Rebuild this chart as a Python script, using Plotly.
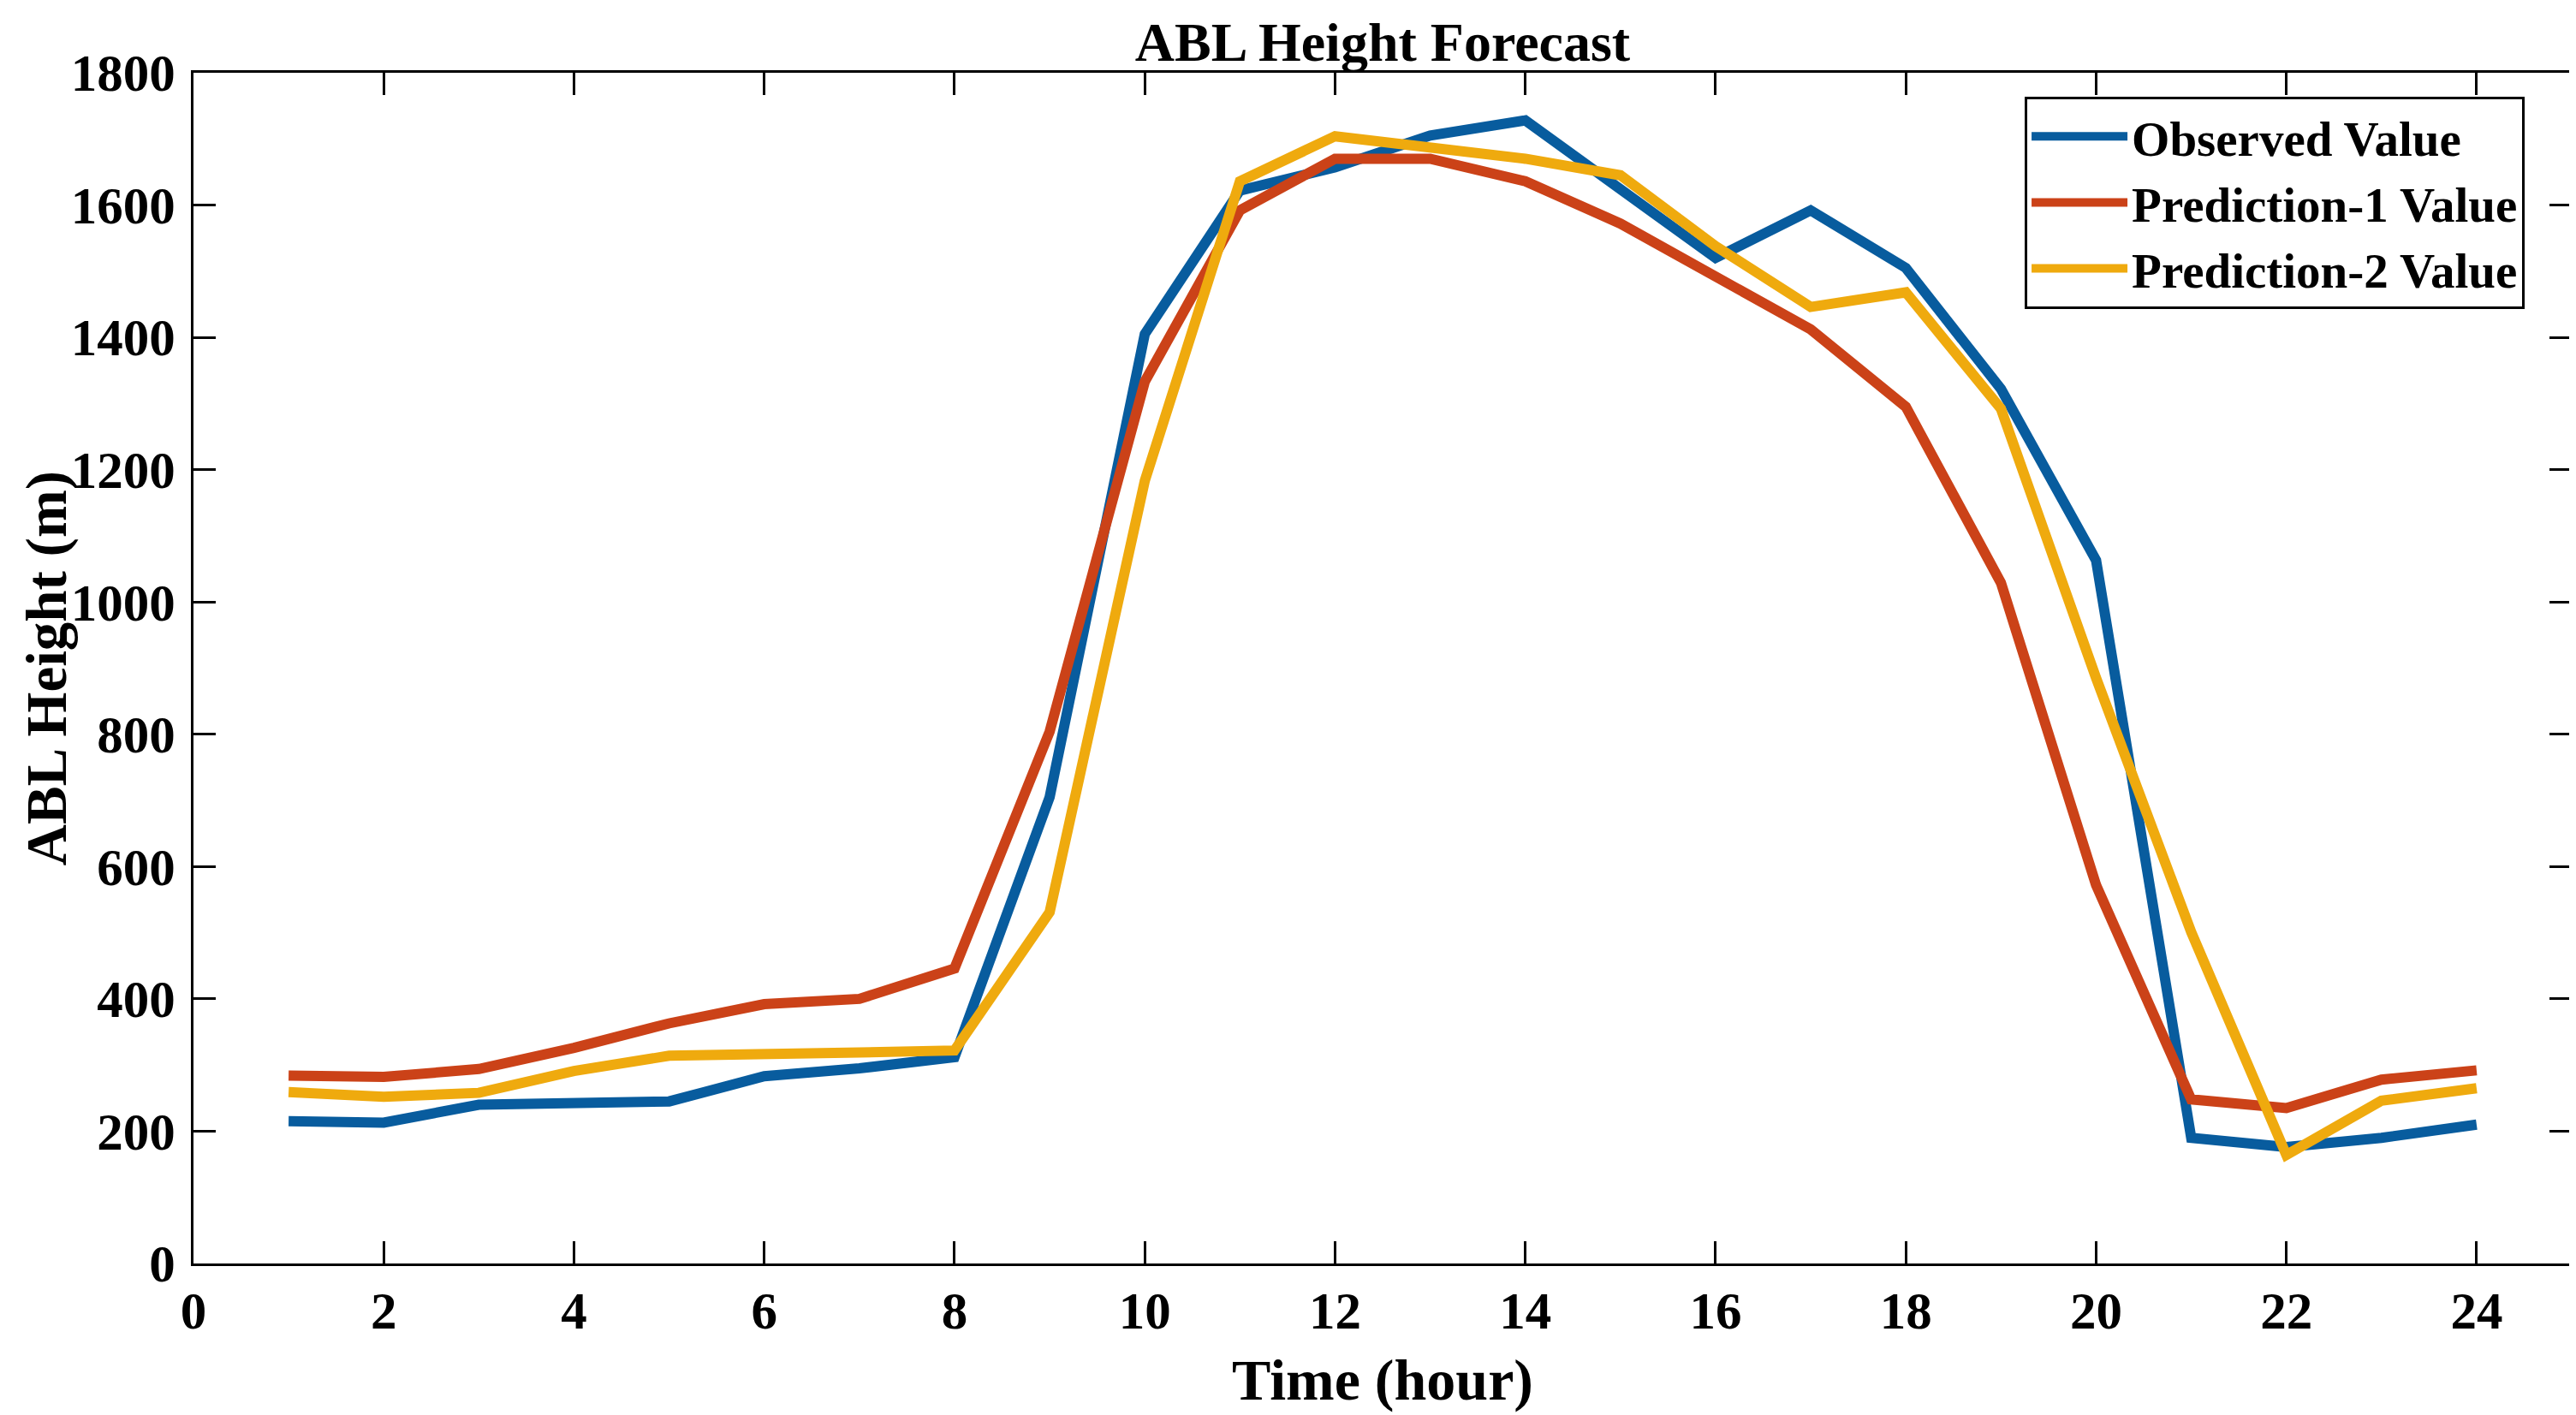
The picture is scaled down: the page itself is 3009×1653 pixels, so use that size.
import plotly.graph_objects as go

hours = list(range(1, 25))
observed = [215, 213, 240, 243, 245, 283, 295, 312, 705, 1405, 1622, 1657, 1705, 1728,
            1622, 1520, 1592, 1505, 1322, 1063, 190, 176, 190, 210]
prediction1 = [284, 282, 294, 326, 363, 392, 400, 446, 804, 1333, 1592, 1670, 1670, 1636,
               1572, 1494, 1412, 1295, 1029, 572, 248, 235, 278, 292]
prediction2 = [259, 252, 258, 291, 314, 318, 319, 322, 531, 1183, 1636, 1704, 1688, 1670,
               1645, 1538, 1446, 1468, 1292, 885, 501, 164, 246, 265]

series_names = ["Observed Value", "Prediction-1 Value", "Prediction-2 Value"]
series_values = [observed, prediction1, prediction2]
colors = ["#085C9E", "#CB4218", "#EFAA0E"]

x_ticks = list(range(0, 25, 2))
y_ticks = list(range(0, 1801, 200))

FONT = "Liberation Serif"

fig = go.Figure()
for name, vals, c in zip(series_names, series_values, colors):
    fig.add_trace(go.Scatter(x=hours, y=vals, mode="lines", name=name,
                             line=dict(color=c, width=12)))

axis_common = dict(
    showgrid=False, zeroline=False, showline=True, linecolor="black", linewidth=3,
    mirror="ticks", ticks="inside", ticklen=26, tickwidth=3, tickcolor="black",
    tickfont=dict(family=FONT, size=61, color="black", weight="bold"),
)

fig.update_layout(
    width=3009, height=1653,
    margin=dict(l=218, r=10, t=77, b=185),
    paper_bgcolor="white", plot_bgcolor="white",
    title=dict(text="ABL Height Forecast", x=0.5, xref="paper", xanchor="center",
               y=1, yref="paper", yanchor="bottom", pad=dict(b=14),
               font=dict(family=FONT, size=64, color="black", weight="bold")),
    xaxis=dict(range=[0, 25], tickvals=x_ticks, ticktext=[str(v) for v in x_ticks],
               title=dict(text="Time (hour)", standoff=24,
                          font=dict(family=FONT, size=68, color="black", weight="bold")),
               **axis_common),
    yaxis=dict(range=[0, 1800], tickvals=y_ticks, ticktext=[str(v) for v in y_ticks],
               ticklabelstandoff=6, **axis_common),
    legend=dict(x=0.770, y=0.980, xanchor="left", yanchor="top",
                bgcolor="white", bordercolor="black", borderwidth=3,
                font=dict(family=FONT, size=57, color="black", weight="bold"),
                itemwidth=112, tracegroupgap=0),
    showlegend=True,
    annotations=[dict(text="ABL Height (m)", textangle=-90, showarrow=False,
                      xref="paper", yref="paper", x=0, y=0.5,
                      xanchor="center", yanchor="middle", xshift=-172,
                      font=dict(family=FONT, size=67, color="black", weight="bold"))],
)

fig.write_html("out.html")
